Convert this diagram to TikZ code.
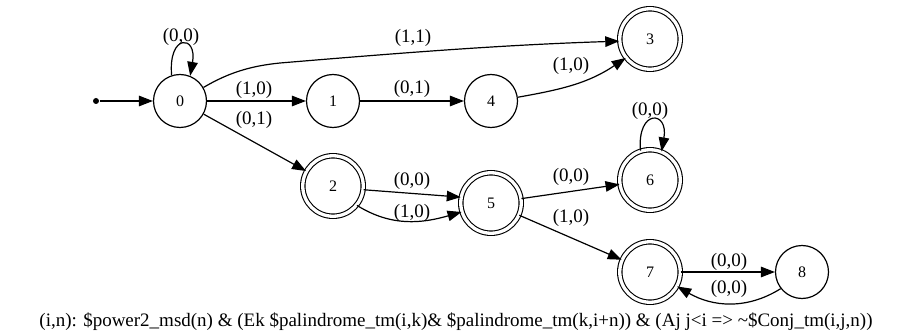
\documentclass[tikz,border=0pt]{standalone}
\usepackage{fontspec}
\setmainfont{Liberation Serif}
\usetikzlibrary{arrows.meta}
\begin{document}
\begin{tikzpicture}[x=1pt,y=1pt,
  every path/.style={line width=1.2pt},
  >={Triangle[length=14pt,width=10.5pt]},
  state/.style={circle,draw,line width=1.2pt,minimum size=53pt,inner sep=0pt,font=\fontsize{16}{16}\selectfont},
  accept/.style={circle,draw,double,double distance=3.3pt,line width=1.1pt,minimum size=60.5pt,inner sep=0pt,font=\fontsize{16}{16}\selectfont},
  lbl/.style={font=\fontsize{19}{19}\selectfont,inner sep=0pt},
  edge/.style={->,line width=1.2pt}]
\useasboundingbox (0,0) rectangle (912,335);
\node[circle,fill,inner sep=0pt,minimum size=6pt] (init) at (96,234) {};
\node[state] (n0) at (180,234) {0};
\node[state] (n1) at (333,234) {1};
\node[state] (n4) at (491,234) {4};
\node[accept] (n3) at (650,296) {3};
\node[accept] (n2) at (333,149) {2};
\node[accept] (n5) at (491,132) {5};
\node[accept] (n6) at (650,155) {6};
\node[accept] (n7) at (650,63) {7};
\node[state] (n8) at (802,63) {8};

\draw[edge] (init) -- (n0);
\draw[edge] (n0.108) .. controls +(95:42) and +(80:42) .. (n0.68) node[lbl] at (181,298) {(0,0)};
\draw[edge] (n0.30) .. controls (228,262) and (250,269) .. (280,272) .. controls (400,282) and (500,290) .. (n3.184) node[lbl] at (413,297) {(1,1)};
\draw[edge] (n0) -- (n1) node[lbl] at (254,245) {(1,0)};
\draw[edge] (n0) -- (n2) node[lbl] at (254,215) {(0,1)};
\draw[edge] (n1) -- (n4) node[lbl] at (412,246) {(0,1)};
\draw[edge] (n4.8) to[out=10,in=214] (n3.218) node[lbl] at (571,269) {(1,0)};
\draw[edge] (n2.-7) -- (n5.169) node[lbl] at (412,154) {(0,0)};
\draw[edge] (n2.-39) to[out=-32,in=196] (n5.197) node[lbl] at (412,122) {(1,0)};
\draw[edge] (n5) -- (n6) node[lbl] at (571,158) {(0,0)};
\draw[edge] (n6.108) .. controls +(95:42) and +(80:42) .. (n6.68) node[lbl] at (650,224) {(0,0)};
\draw[edge] (n5) -- (n7) node[lbl] at (571,117) {(1,0)};
\draw[edge] (n7) -- (n8) node[lbl] at (729,73) {(0,0)};
\draw[edge] (n8.218) to[out=212,in=-30] (n7.-28) node[lbl] at (729,46) {(0,0)};
\node[lbl] (cap) at (456,13) {(i,n): \$power2\_msd(n) \& (Ek \$palindrome\_tm(i,k)\& \$palindrome\_tm(k,i+n)) \& (Aj j<i => \textasciitilde\$Conj\_tm(i,j,n))};
\end{tikzpicture}
\end{document}
